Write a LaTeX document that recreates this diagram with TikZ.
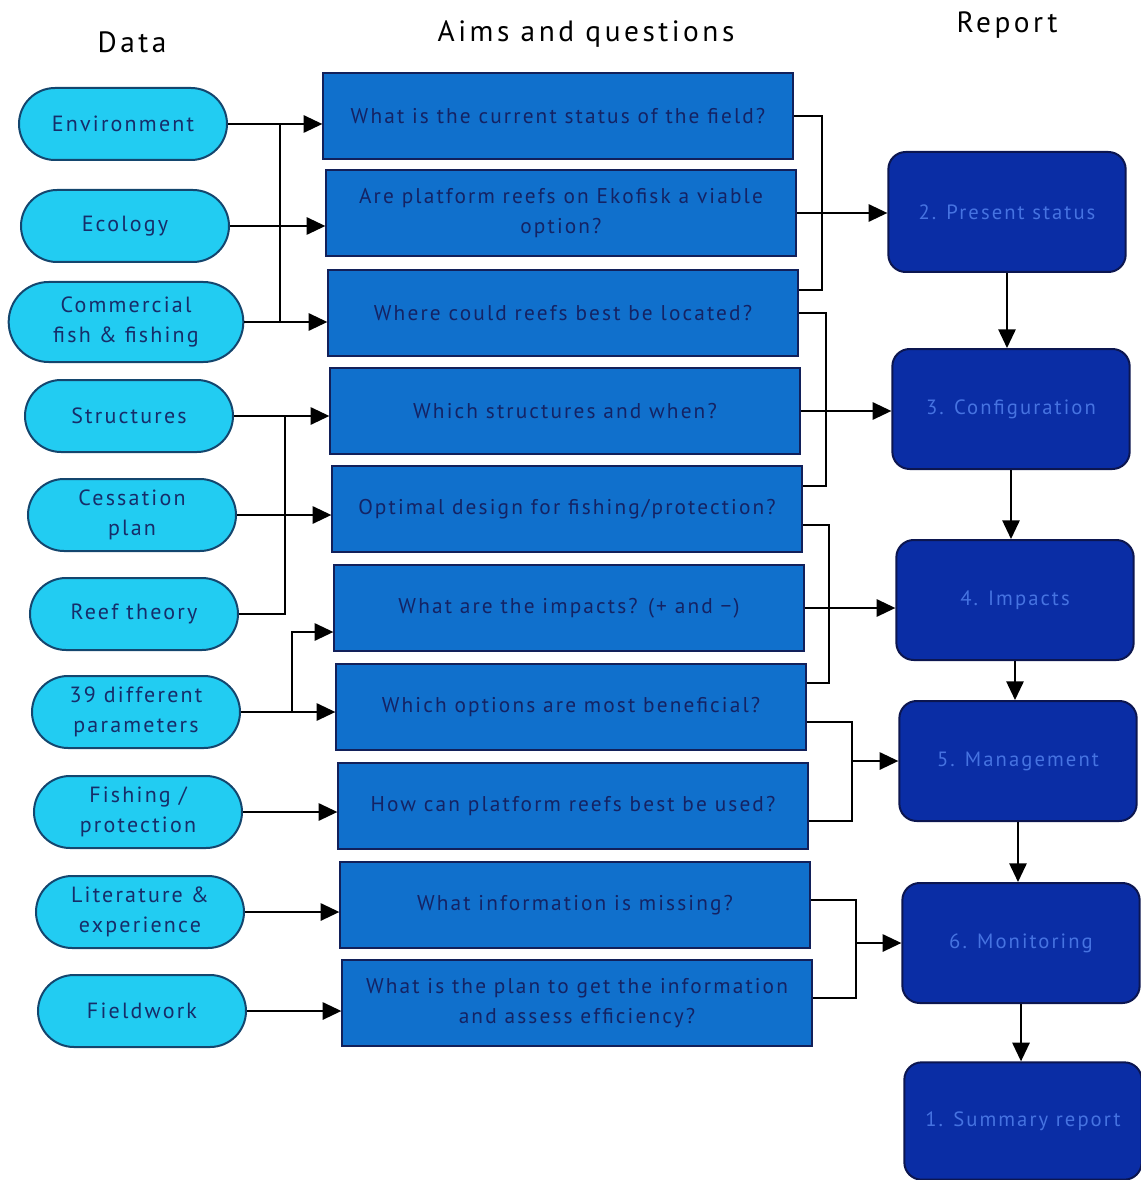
\documentclass[tikz,border=0pt]{standalone}
\usepackage{fontspec}
\setmainfont{PT Sans}
\newfontfamily\boxfont[LetterSpace=10]{PT Sans}
\newfontfamily\headfont[LetterSpace=12]{PT Sans}
\usetikzlibrary{arrows.meta,shapes.misc,calc}
\definecolor{ovalfill}{RGB}{34,204,242}
\definecolor{ovalline}{RGB}{20,70,110}
\definecolor{ovaltext}{RGB}{22,45,105}
\definecolor{qfill}{RGB}{16,112,204}
\definecolor{qline}{RGB}{18,32,90}
\definecolor{qtext}{RGB}{20,35,100}
\definecolor{rfill}{RGB}{10,45,165}
\definecolor{rline}{RGB}{12,22,80}
\definecolor{rtext}{RGB}{70,115,225}
\tikzset{
  dataoval/.style={rounded rectangle, draw=ovalline, line width=1.5pt, fill=ovalfill,
    minimum width=160pt, minimum height=54pt, inner sep=2pt, align=center,
    text=ovaltext, font=\boxfont\fontsize{16.5}{22}\selectfont},
  question/.style={rectangle, draw=qline, line width=1.5pt, fill=qfill,
    minimum width=352pt, minimum height=64pt, inner sep=3pt, align=center,
    text=qtext, font=\boxfont\fontsize{16}{22}\selectfont},
  report/.style={rectangle, rounded corners=13pt, draw=rline, line width=1.5pt, fill=rfill,
    minimum width=178pt, minimum height=90pt, align=center,
    text=rtext, font=\boxfont\fontsize{15.5}{18}\selectfont},
  header/.style={font=\headfont\fontsize{22}{26}\selectfont, text=black},
  conn/.style={line width=1.3pt, draw=black},
  arr/.style={conn, -{Triangle[length=14pt,width=13pt]}}
}
\begin{document}
\begin{tikzpicture}[x=0.75pt,y=-0.75pt]
\useasboundingbox (0,0) rectangle (1140,1180);
% headers
\node[header] (hd) at (132,42) {Data};
\node[header] (ha) at (586,34) {Aims and questions};
\node[header] (hr) at (1007,25) {Report};
% data ovals
\node[dataoval] (e1) at (123,124) {Environment};
\node[dataoval] (e2) at (125,226) {Ecology};
\node[dataoval, minimum width=180pt, minimum height=60pt] (e3) at (126,322) {Commercial\\fish \& fishing};
\node[dataoval] (e4) at (129,416) {Structures};
\node[dataoval] (e5) at (132,515) {Cessation\\plan};
\node[dataoval] (e6) at (134,614) {Reef theory};
\node[dataoval] (e7) at (136,712) {39 different\\parameters};
\node[dataoval] (e8) at (138,812) {Fishing /\\protection};
\node[dataoval] (e9) at (140,912) {Literature \&\\experience};
\node[dataoval] (e10) at (142,1011) {Fieldwork};
% questions
\node[question] (q1) at (558,116) {What is the current status of the field?};
\node[question] (q2) at (561,213) {Are platform reefs on Ekofisk a viable\\option?};
\node[question] (q3) at (563,313) {Where could reefs best be located?};
\node[question] (q4) at (565,411) {Which structures and when?};
\node[question] (q5) at (567,509) {Optimal design for fishing/protection?};
\node[question] (q6) at (569,608) {What are the impacts? (+ and −)};
\node[question] (q7) at (571,707) {Which options are most beneficial?};
\node[question] (q8) at (573,806) {How can platform reefs best be used?};
\node[question] (q9) at (575,905) {What information is missing?};
\node[question] (q10) at (577,1003) {What is the plan to get the information\\and assess efficiency?};
% report
\node[report] (r2) at (1007,212) {2. Present status};
\node[report] (r3) at (1011,409) {3. Configuration};
\node[report] (r4) at (1015,600) {4. Impacts};
\node[report] (r5) at (1018,761) {5. Management};
\node[report] (r6) at (1021,943) {6. Monitoring};
\node[report, minimum height=88pt] (r1) at (1023,1121) {1. Summary report};
% bus coordinates
\coordinate (b1) at (280,0);
\coordinate (b2) at (285,0);
\coordinate (b3) at (292,0);
\coordinate (c1) at (822,0);
\coordinate (c2) at (826,0);
\coordinate (c3) at (829,0);
\coordinate (c4) at (852,0);
\coordinate (c5) at (856,0);
% left connectors
\draw[arr] (e1.east) -- (e1.east -| q1.west);
\draw[arr] (e2.east) -- (e2.east -| q2.west);
\draw[arr] (e3.east) -- (e3.east -| q3.west);
\draw[conn] (e1.east -| b1) -- (e3.east -| b1);
\draw[arr] (e4.east) -- (e4.east -| q4.west);
\draw[arr] (e5.east) -- (e5.east -| q5.west);
\draw[conn] (e6.east) -- (e6.east -| b2) -- (e4.east -| b2);
\draw[arr] (e7.east) -- (e7.east -| q7.west);
\path ($(q6.west)+(0,24)$) coordinate (q6in);
\draw[arr] (e7.east -| b3) |- (q6in);
\draw[arr] (e8.east) -- (e8.east -| q8.west);
\draw[arr] (e9.east) -- (e9.east -| q9.west);
\draw[arr] (e10.east) -- (e10.east -| q10.west);
% right connectors
\path ($(q3.east)+(0,-23)$) coordinate (q3in)
      ($(q5.east)+(0,-23)$) coordinate (q5in)
      ($(q5.east)+(0,16)$) coordinate (q5out)
      ($(q7.east)+(0,-24)$) coordinate (q7in)
      ($(q7.east)+(0,15)$) coordinate (q7out)
      ($(q8.east)+(0,15)$) coordinate (q8in)
      ($(q9.east)+(0,-5)$) coordinate (q9out)
      ($(q10.east)+(0,-5)$) coordinate (q10in);
\draw[conn] (q1.east) -- (q1.east -| c1) |- (q3in);
\draw[arr] (q2.east) -- (q2.east -| r2.west);
\draw[conn] (q3.east) -- (q3.east -| c2) |- (q5in);
\draw[arr] (q4.east) -- (q4.east -| r3.west);
\draw[conn] (q5out) -- (q5out -| c3) |- (q7in);
\draw[arr] (q6.east) -- (q6.east -| r4.west);
\draw[conn] (q7out) -- (q7out -| c4) |- (q8in);
\draw[arr] (c4 |- r5.west) -- (r5.west);
\draw[conn] (q9out) -- (q9out -| c5) |- (q10in);
\draw[arr] (c5 |- r6.west) -- (r6.west);
% report chain
\draw[arr] (r2.south) -- (r2.south |- r3.north);
\draw[arr] (r3.south) -- (r3.south |- r4.north);
\draw[arr] (r4.south) -- (r4.south |- r5.north);
\draw[arr] (r5.south) -- (r5.south |- r6.north);
\draw[arr] (r6.south) -- (r6.south |- r1.north);
\end{tikzpicture}
\end{document}
